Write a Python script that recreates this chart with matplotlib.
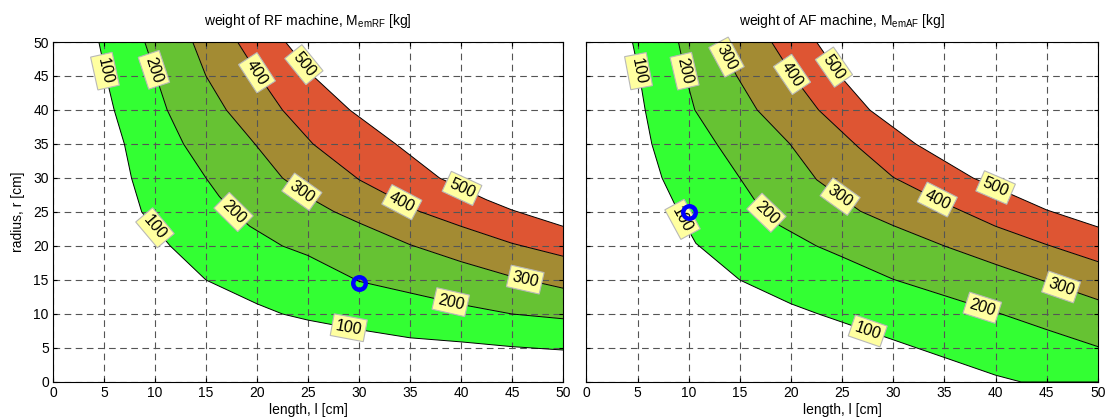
import numpy as np
import matplotlib
matplotlib.use("Agg")
import matplotlib.pyplot as plt

plt.rcParams['font.family'] = ['Liberation Sans', 'DejaVu Sans']
plt.rcParams['mathtext.fontset'] = 'custom'
plt.rcParams['mathtext.rm'] = 'Liberation Sans'

levels = [100, 200, 300, 400, 500]
band_colors = ['#33FF33', '#66C233', '#A38B33', '#DE5533']

# RF machine: contour lines, radius r [cm] vs length l [cm]
rf_100_l = [4.5, 5.2, 6.0, 7.0, 7.7, 8.7, 11.5, 15, 20, 22.5, 25, 30, 35, 40, 45, 50]
rf_100_r = [50, 45, 40, 35, 30, 25, 20, 15, 11.5, 10, 9.1, 7.7, 6.5, 5.9, 5.2, 4.7]
rf_200_l = [9.0, 10.1, 11.2, 12.8, 15.0, 16.3, 17.7, 19.3, 22.5, 25, 30, 35, 40, 45, 50]
rf_200_r = [50, 45, 40, 35, 30, 27.3, 25, 22.9, 20, 18.6, 14.8, 13.1, 11.4, 10.0, 9.3]
rf_300_l = [13.7, 15.0, 17.0, 19.8, 22.5, 25.5, 27.5, 30, 35, 40, 45, 50]
rf_300_r = [50, 45, 40, 35, 30, 26.8, 25.1, 23.4, 20.2, 17.7, 15.5, 13.8]
rf_400_l = [18.1, 20.2, 22.5, 25.5, 30.0, 35.9, 40, 45, 50]
rf_400_r = [50, 45, 40, 35, 29.75, 25.1, 22.9, 20.4, 18.5]
rf_500_l = [22.8, 25.5, 29.1, 33.6, 37.9, 42.5, 45, 50]
rf_500_r = [50, 45, 40, 35, 30, 26.8, 25.3, 22.9]

# AF machine
af_100_l = [4.5, 5.2, 5.75, 6.4, 7.4, 9.0, 10.7, 15.0, 20.0, 22.5, 25.0, 30.0, 35.0, 40.0, 42.5, 50]
af_100_r = [50, 45, 40, 35, 30, 25, 20.4, 15.0, 11.5, 10.1, 8.8, 6.2, 3.6, 1.0, 0, 0]
af_200_l = [9.0, 9.7, 10.6, 12.75, 15.0, 16.7, 18.9, 22.5, 25, 30, 35, 40, 45, 50]
af_200_r = [50, 45, 40, 35, 30, 26.2, 23.0, 20, 18.4, 15.1, 12.7, 10.3, 7.7, 5.2]
af_300_l = [12.9, 14.7, 16.7, 19.9, 22.5, 26.8, 30, 35, 40, 45, 50]
af_300_r = [50, 45, 40, 35, 29.75, 25.1, 23.0, 20.0, 17.3, 14.7, 12.1]
af_400_l = [18.1, 20.2, 22.7, 26.6, 30, 35, 40, 45, 50]
af_400_r = [50, 45, 40, 34.5, 30.1, 26.3, 22.9, 20.2, 17.7]
af_500_l = [22.5, 24.8, 27.7, 32.2, 37.8, 40, 45, 50]
af_500_r = [50, 45, 40, 35, 30, 28.6, 25.3, 22.8]

rf_point = (30, 14.5)
af_point = (10, 25)

# where the inline labels sit (length along each line)
rf_label_at = {100: [5.1, 10.0, 29.0], 200: [9.9, 17.7, 39.0], 300: [24.4, 46.3],
               400: [20.0, 34.2], 500: [24.6, 40.1]}
af_label_at = {100: [5.1, 9.4, 27.5], 200: [9.6, 17.6, 38.7], 300: [13.7, 24.8, 46.4],
               400: [20.1, 34.3], 500: [24.2, 40.0]}


def draw_panel(ax, curves, label_at, point, title):
    curves = [(np.array(l, float), np.array(r, float)) for l, r in curves]
    # filled bands between neighbouring contour lines
    for k in range(len(curves) - 1):
        l0, r0 = curves[k]
        l1, r1 = curves[k + 1]
        ax.fill(np.r_[l0, l1[::-1]], np.r_[r0, r1[::-1]],
                color=band_colors[k], lw=0, zorder=1)
    for (l, r), lev in zip(curves, levels):
        ax.plot(l, r, color='black', lw=0.7, zorder=3)
        for xl in label_at[lev]:
            yl = np.interp(xl, l, r)
            dr = np.interp(xl + 0.6, l, r) - np.interp(xl - 0.6, l, r)
            ang = np.degrees(np.arctan2(dr, 1.2))
            ax.text(xl, yl, str(lev), rotation=ang, rotation_mode='anchor',
                    transform_rotates_text=True, ha='center', va='center',
                    fontsize=11.5, zorder=5,
                    bbox=dict(boxstyle='square,pad=0.22', fc='#FFFFA0',
                              ec='#B8B8B8', lw=0.8))
    ax.plot(point[0], point[1], 'o', mfc='none', mec='#0000FF', ms=9, mew=3.2, zorder=6)

    ax.set_xlim(0, 50)
    ax.set_ylim(0, 50)
    ax.set_xticks(range(0, 51, 5))
    ax.set_yticks(range(0, 51, 5))
    ax.grid(True, color='#555555', ls=(0, (6, 4)), lw=0.8, zorder=2)
    ax.set_axisbelow(False)
    ax.tick_params(direction='in', top=True, right=True, labelsize=10, length=3, pad=3)
    for s in ax.spines.values():
        s.set_linewidth(0.8)
        s.set_zorder(7)
    ax.set_title(title, fontsize=10, pad=12)
    ax.set_xlabel('length, l [cm]', fontsize=10, labelpad=2)


fig = plt.figure(figsize=(11.08, 4.2), dpi=100)
ax1 = fig.add_axes([0.0478, 0.0905, 0.4603, 0.8095])
ax2 = fig.add_axes([0.5292, 0.0905, 0.4617, 0.8095])

rf_curves = [(rf_100_l, rf_100_r), (rf_200_l, rf_200_r), (rf_300_l, rf_300_r),
             (rf_400_l, rf_400_r), (rf_500_l, rf_500_r)]
af_curves = [(af_100_l, af_100_r), (af_200_l, af_200_r), (af_300_l, af_300_r),
             (af_400_l, af_400_r), (af_500_l, af_500_r)]

draw_panel(ax1, rf_curves, rf_label_at, rf_point,
           r'weight of RF machine, M$_{\mathrm{emRF}}$ [kg]')
draw_panel(ax2, af_curves, af_label_at, af_point,
           r'weight of AF machine, M$_{\mathrm{emAF}}$ [kg]')
ax1.set_ylabel('radius, r [cm]', fontsize=10, labelpad=6)
ax2.tick_params(labelleft=False)

fig.savefig('out.png', dpi=100)
